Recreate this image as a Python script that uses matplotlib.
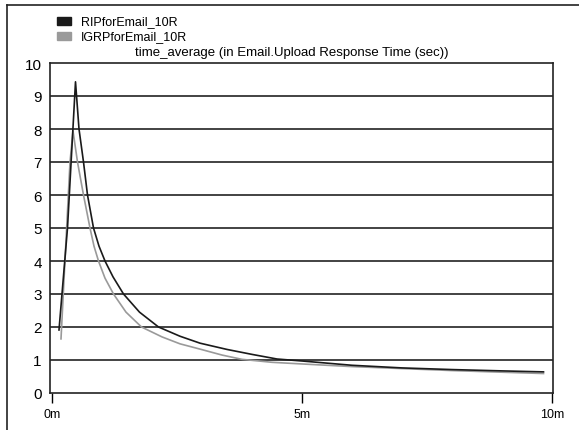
import matplotlib
matplotlib.use('Agg')
import matplotlib.pyplot as plt
from matplotlib import font_manager
from matplotlib.lines import Line2D
from matplotlib.patches import Rectangle

# minutes / seconds
rip_t = [0.14, 0.31, 0.47, 0.54, 0.63, 0.71, 0.83, 0.94, 1.06, 1.22, 1.43, 1.75,
         2.13, 2.56, 2.96, 3.5, 4.0, 4.5, 5.0, 6.0, 7.0, 8.0, 9.0, 9.83]
rip_v = [1.91, 5.0, 9.43, 8.0, 7.0, 6.0, 5.0, 4.45, 4.0, 3.52, 3.0, 2.45,
         2.0, 1.72, 1.51, 1.32, 1.17, 1.03, 0.97, 0.84, 0.76, 0.71, 0.67, 0.64]
igr_t = [0.18, 0.36, 0.42, 0.51, 0.63, 0.76, 0.84, 0.93, 1.06, 1.23, 1.48, 1.79,
         2.2, 2.56, 2.96, 3.4, 3.8, 4.4, 5.0, 6.0, 7.0, 8.0, 9.0, 9.83]
igr_v = [1.64, 7.0, 7.94, 7.0, 6.0, 5.0, 4.45, 4.0, 3.48, 3.0, 2.45, 2.0,
         1.7, 1.49, 1.33, 1.15, 1.02, 0.93, 0.88, 0.8, 0.74, 0.68, 0.63, 0.59]
series_names = ['RIPforEmail_10R', 'IGRPforEmail_10R']
series_colors = ['#1a1a1a', '#9a9a9a']
y_ticks = list(range(0, 11))
x_ticks = [0, 5, 10]
x_labels = ['0m', '5m', '10m']
title = 'time_average (in Email.Upload Response Time (sec))'

names = {f.name for f in font_manager.fontManager.ttflist}
font = 'Liberation Sans Narrow' if 'Liberation Sans Narrow' in names else 'Liberation Sans'
plt.rcParams['font.family'] = [font, 'DejaVu Sans']

fig = plt.figure(figsize=(5.79, 4.31), dpi=100)
ax = fig.add_axes([50 / 579, 1 - 394 / 431, 503 / 579, 330 / 431])

for yv in y_ticks[1:-1]:
    ax.axhline(yv, color='#222222', lw=1.2, zorder=1)

ax.plot(igr_t, igr_v, color=series_colors[1], lw=1.2, zorder=3)
ax.plot(rip_t, rip_v, color=series_colors[0], lw=1.2, zorder=4)

ax.set_xlim(-0.04, 10.02)
ax.set_ylim(0, 10)
ax.set_yticks(y_ticks)
ax.set_xticks(x_ticks)
ax.set_xticklabels(x_labels)
ax.tick_params(axis='y', length=0, pad=6, labelsize=11)
ax.tick_params(axis='x', length=7, width=1.0, direction='out', pad=4, labelsize=9)
for s in ax.spines.values():
    s.set_linewidth(1.2)
    s.set_color('#222222')

# legend and title as figure text
for i, (nm, col) in enumerate(zip(series_names, series_colors)):
    yc = 1 - (22 + 15 * i) / 431
    fig.patches.append(Rectangle((57 / 579, yc - 4 / 431), 14 / 579, 8 / 431,
                                 transform=fig.transFigure, color=col))
    fig.text(81 / 579, yc, nm, fontsize=9, va='center', ha='left')
fig.text(135 / 579, 1 - 53 / 431, title, fontsize=9.5, va='center', ha='left')

# outer frame (cropped at right and bottom)
fig.add_artist(Line2D([7 / 579, 7 / 579], [0, 1 - 6 / 431], transform=fig.transFigure,
                      color='#222222', lw=1.2))
fig.add_artist(Line2D([7 / 579, 1], [1 - 6 / 431, 1 - 6 / 431], transform=fig.transFigure,
                      color='#222222', lw=1.2))

plt.savefig('out.png', dpi=100)
plt.close()
